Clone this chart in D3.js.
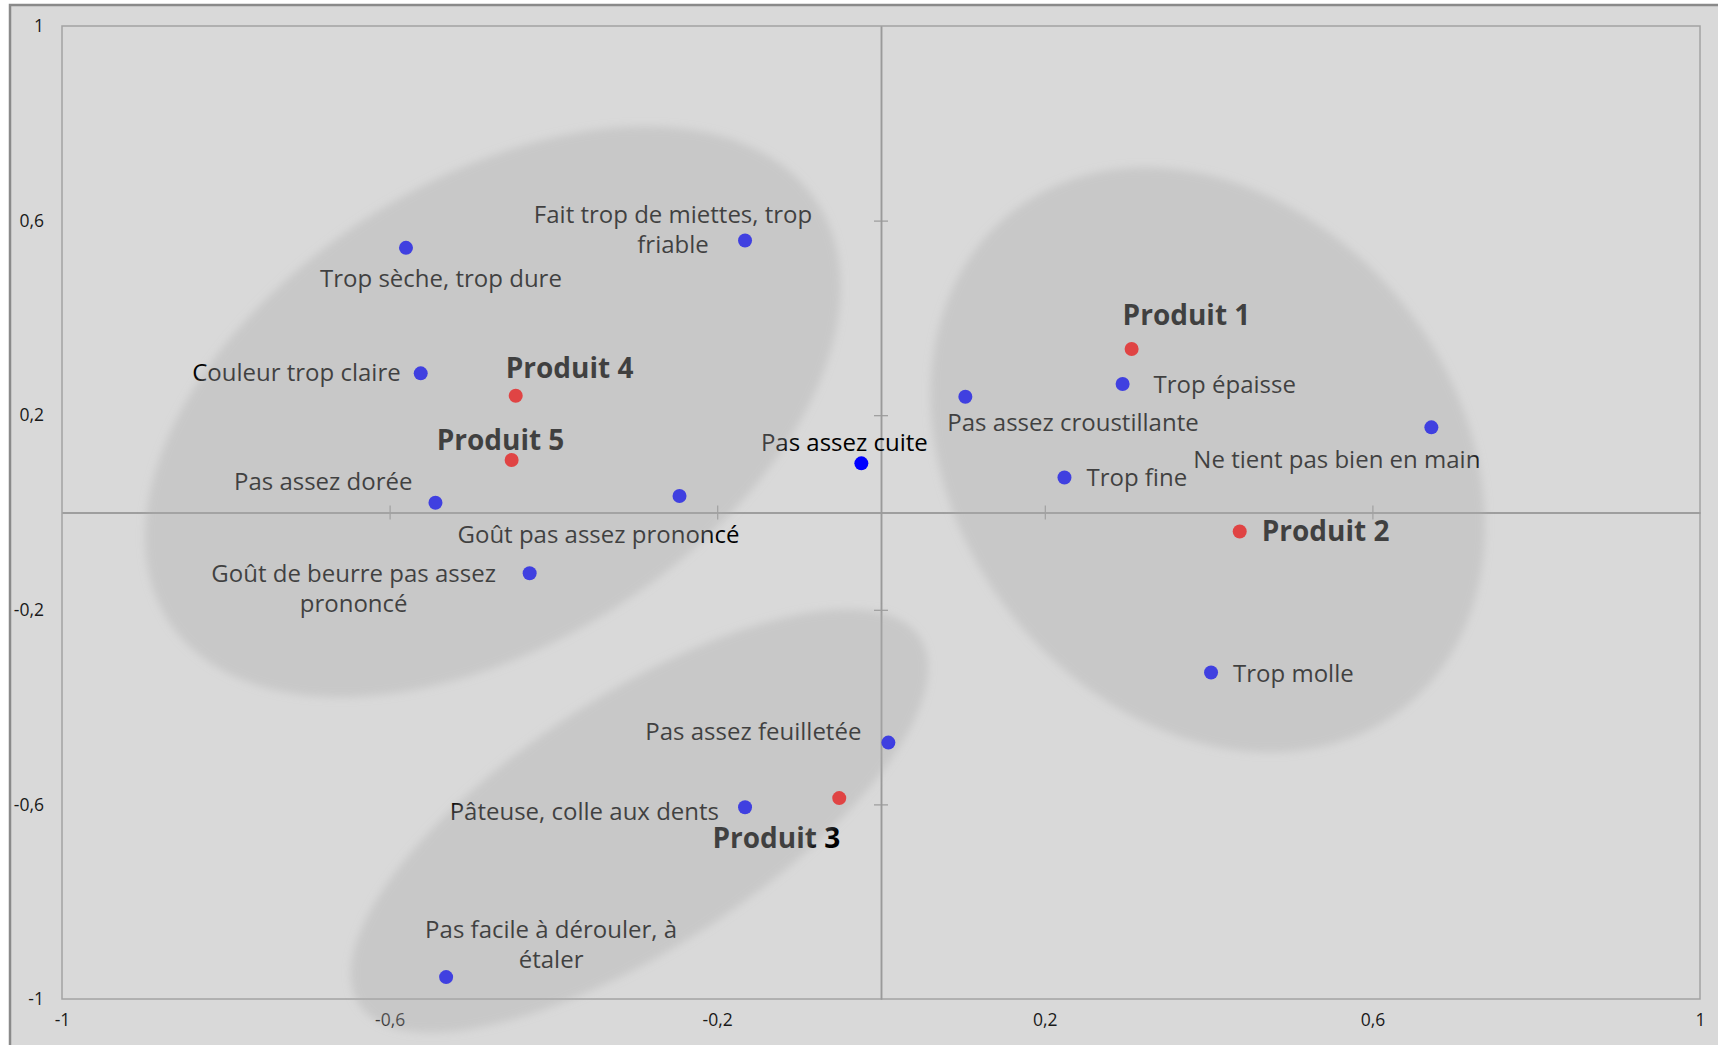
<!DOCTYPE html>
<html>
<head>
<meta charset="utf-8">
<script src="https://cdn.jsdelivr.net/npm/d3@7"></script>
<style>
  html, body { margin: 0; padding: 0; background: #ffffff; }
  svg { display: block; }
  text { font-family: "Open Sans", "Noto Sans", sans-serif; }
</style>
</head>
<body>
<svg id="chart" width="1718" height="1045"></svg>
<script>
// ---------- DATA ----------
const attrNames = [
  "Trop sèche, trop dure",
  "Fait trop de miettes, trop\nfriable",
  "Couleur trop claire",
  "Pas assez dorée",
  "Goût pas assez prononcé",
  "Goût de beurre pas assez\nprononcé",
  "Pas assez cuite",
  "Pas assez croustillante",
  "Trop épaisse",
  "Trop fine",
  "Ne tient pas bien en main",
  "Trop molle",
  "Pas assez feuilletée",
  "Pâteuse, colle aux dents",
  "Pas facile à dérouler, à\nétaler"
];
const attrX = [-0.580, -0.166, -0.562, -0.544, -0.246, -0.429, -0.024, 0.103, 0.295, 0.224, 0.672, 0.403, 0.009, -0.166, -0.531];
const attrY = [0.544, 0.559, 0.286, 0.020, 0.034, -0.125, 0.101, 0.238, 0.264, 0.072, 0.175, -0.329, -0.473, -0.606, -0.955];

const prodNames = ["Produit 1", "Produit 2", "Produit 3", "Produit 4", "Produit 5"];
const prodX = [0.306, 0.438, -0.051, -0.446, -0.451];
const prodY = [0.336, -0.039, -0.587, 0.240, 0.108];

const tickValues = [-1, -0.6, -0.2, 0.2, 0.6, 1];

// group ellipses (centre in data units)
const groupCX = [-0.474, 0.399, -0.295];
const groupCY = [0.207, 0.108, -0.634];

// ---------- LAYOUT (label offsets in px, not data) ----------
const attrLabelLayout = [
  {a: "middle", dx: 35, dy: 39},
  {a: "middle", dx: -72, dy: -18},
  {a: "end", dx: -20, dy: 8},
  {a: "end", dx: -23, dy: -13},
  {a: "middle", dx: -81, dy: 47},
  {a: "middle", dx: -176, dy: 9},
  {a: "middle", dx: -17, dy: -12},
  {a: "start", dx: -18, dy: 34},
  {a: "start", dx: 31, dy: 9},
  {a: "start", dx: 22, dy: 9},
  {a: "end", dx: 49, dy: 41},
  {a: "start", dx: 22, dy: 9},
  {a: "end", dx: -27, dy: -3},
  {a: "end", dx: -26, dy: 13},
  {a: "middle", dx: 105, dy: -39}
];
const prodLabelLayout = [
  {a: "start", dx: -9, dy: -24},
  {a: "start", dx: 22, dy: 10},
  {a: "end", dx: 1, dy: 50},
  {a: "start", dx: -10, dy: -18},
  {a: "start", dx: -75, dy: -10}
];
const ellipseShape = [
  {rx: 386, ry: 231, rot: -32.8},
  {rx: 316, ry: 250, rot: 51.7},
  {rx: 335, ry: 126, rot: -33.2}
];

// ---------- CHART ----------
const svg = d3.select("#chart");
const W = 1718, H = 1045;
const plot = {left: 62, right: 1700, top: 26, bottom: 999};

const x = d3.scaleLinear().domain([-1, 1]).range([plot.left, plot.right]);
const y = d3.scaleLinear().domain([-1, 1]).range([plot.bottom, plot.top]);
const fmt = d => String(d).replace(".", ",");

// chart area
svg.append("rect").attr("x", 0).attr("y", 0).attr("width", W).attr("height", H).attr("fill", "#ffffff");
svg.append("rect").attr("x", 10).attr("y", 5).attr("width", W + 20).attr("height", H + 20)
  .attr("fill", "#d9d9d9").attr("stroke", "#8a8a8a").attr("stroke-width", 2.5);

// plot area border
svg.append("rect").attr("x", plot.left).attr("y", plot.top)
  .attr("width", plot.right - plot.left).attr("height", plot.bottom - plot.top)
  .attr("fill", "none").attr("stroke", "#a3a3a3").attr("stroke-width", 1.5);

// edge tick labels
const leftAxis = svg.append("g").attr("transform", `translate(${44},0)`)
  .call(d3.axisLeft(y).tickValues(tickValues).tickSize(0).tickPadding(0).tickFormat(fmt));
leftAxis.select(".domain").remove();
leftAxis.selectAll("text").attr("font-size", 17.5).attr("fill", "#1a1a1a")
  .style("font-family", '"Open Sans", sans-serif');

const bottomAxis = svg.append("g").attr("transform", `translate(0,${1014})`)
  .call(d3.axisBottom(x).tickValues(tickValues).tickSize(0).tickPadding(0).tickFormat(fmt));
bottomAxis.select(".domain").remove();
bottomAxis.selectAll("text").attr("font-size", 17.5).attr("fill", "#1a1a1a")
  .style("font-family", '"Open Sans", sans-serif');

// centre axes (crossing at 0) with cross ticks
const innerTicks = [-0.6, -0.2, 0.2, 0.6];
function styleAxis(g) {
  g.selectAll("path.domain").attr("stroke", "#9a9a9a").attr("stroke-width", 1.5);
  g.selectAll(".tick line").attr("stroke", "#9a9a9a").attr("stroke-width", 1.2);
  g.selectAll(".tick text").remove();
}
svg.append("g").attr("transform", `translate(0,${y(0)})`)
  .call(d3.axisBottom(x).tickValues(innerTicks).tickSizeInner(7).tickSizeOuter(0).tickFormat(""))
  .call(styleAxis);
svg.append("g").attr("transform", `translate(0,${y(0)})`)
  .call(d3.axisTop(x).tickValues(innerTicks).tickSizeInner(7).tickSizeOuter(0).tickFormat(""))
  .call(styleAxis);
svg.append("g").attr("transform", `translate(${x(0)},0)`)
  .call(d3.axisLeft(y).tickValues(innerTicks).tickSizeInner(7).tickSizeOuter(0).tickFormat(""))
  .call(styleAxis);
svg.append("g").attr("transform", `translate(${x(0)},0)`)
  .call(d3.axisRight(y).tickValues(innerTicks).tickSizeInner(7).tickSizeOuter(0).tickFormat(""))
  .call(styleAxis);

// points and labels
const attrs = attrNames.map((n, i) => ({name: n, x: attrX[i], y: attrY[i], L: attrLabelLayout[i]}));
const prods = prodNames.map((n, i) => ({name: n, x: prodX[i], y: prodY[i], L: prodLabelLayout[i]}));

function addLabels(data, opts) {
  const t = svg.append("g").selectAll("text").data(data).join("text")
    .attr("x", d => x(d.x) + d.L.dx)
    .attr("y", d => y(d.y) + d.L.dy)
    .attr("text-anchor", d => d.L.a)
    .attr("font-size", opts.size)
    .attr("font-weight", opts.weight)
    .attr("fill", "#000000");
  t.each(function(d) {
    const lines = d.name.split("\n");
    d3.select(this).selectAll("tspan").data(lines).join("tspan")
      .attr("x", x(d.x) + d.L.dx)
      .attr("dy", (l, j) => j === 0 ? 0 : 30)
      .text(l => l);
  });
}

svg.append("g").selectAll("circle").data(attrs).join("circle")
  .attr("cx", d => x(d.x)).attr("cy", d => y(d.y)).attr("r", 7).attr("fill", "#0000ff");
svg.append("g").selectAll("circle").data(prods).join("circle")
  .attr("cx", d => x(d.x)).attr("cy", d => y(d.y)).attr("r", 7).attr("fill", "#ff0606");

addLabels(attrs, {size: 24, weight: 400});
addLabels(prods, {size: 28, weight: 700});

// translucent group ellipses on top (soft edges)
const defs = svg.append("defs");
defs.append("filter").attr("id", "soft").attr("x", "-20%").attr("y", "-20%").attr("width", "140%").attr("height", "140%")
  .append("feGaussianBlur").attr("stdDeviation", 4);

const groups = groupCX.map((cx, i) => ({cx, cy: groupCY[i], S: ellipseShape[i]}));
svg.append("g").attr("filter", "url(#soft)").selectAll("ellipse").data(groups).join("ellipse")
  .attr("cx", 0).attr("cy", 0)
  .attr("rx", d => d.S.rx).attr("ry", d => d.S.ry)
  .attr("transform", d => `translate(${x(d.cx)},${y(d.cy)}) rotate(${d.S.rot})`)
  .attr("fill", "#acacac").attr("fill-opacity", 0.373);
</script>
</body>
</html>
